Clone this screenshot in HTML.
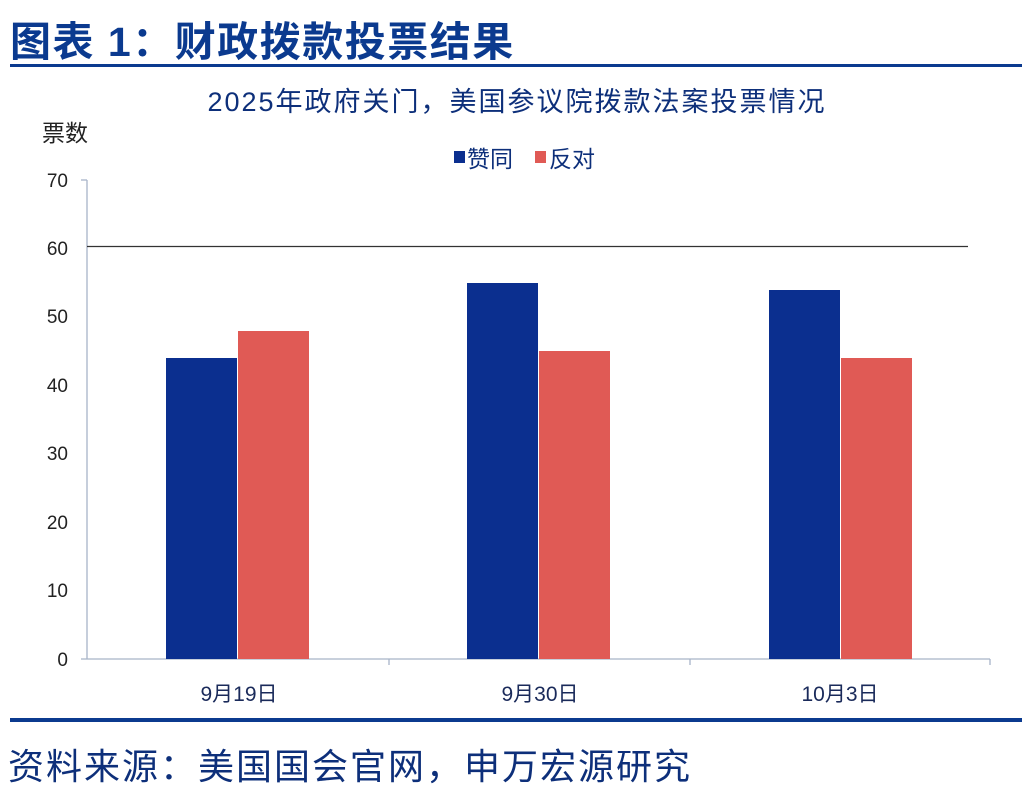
<!DOCTYPE html>
<html><head><meta charset="utf-8"><style>
html,body{margin:0;padding:0;background:#fff;}
svg{display:block;}
text{font-family:"Liberation Sans","Noto Sans CJK SC",sans-serif;}
</style></head><body>
<svg width="1022" height="798" viewBox="0 0 1022 798" xmlns="http://www.w3.org/2000/svg">
<rect width="1022" height="798" fill="#fff"/>
<text x="10" y="56" font-size="41" font-weight="bold" fill="#0b3a8f" letter-spacing="1.5">图表 1：财政拨款投票结果</text>
<rect x="10" y="64" width="1012" height="3" fill="#0b3a8f"/>
<text x="517" y="111" font-size="27" fill="#0d2f7a" text-anchor="middle" letter-spacing="2">2025年政府关门，美国参议院拨款法案投票情况</text>
<text x="42" y="141" font-size="23" fill="#222">票数</text>
<rect x="454" y="151" width="11" height="12" fill="#0b2f8f"/>
<text x="467" y="167" font-size="23" fill="#0d2f7a">赞同</text>
<rect x="535" y="151" width="11" height="12" fill="#e05a55"/>
<text x="549" y="167" font-size="23" fill="#0d2f7a">反对</text>
<g font-size="19" fill="#222" text-anchor="end">
<text x="68" y="666">0</text><text x="68" y="597">10</text><text x="68" y="529">20</text><text x="68" y="460">30</text><text x="68" y="392">40</text><text x="68" y="323">50</text><text x="68" y="255">60</text><text x="68" y="187">70</text>
</g>
<g stroke="#a8b4c8" stroke-width="1.3">
<line x1="87" y1="180" x2="87" y2="659"/>
<line x1="81" y1="180" x2="87" y2="180"/>
<line x1="81" y1="659" x2="990" y2="659"/>
<line x1="389" y1="659" x2="389" y2="665"/>
<line x1="690" y1="659" x2="690" y2="665"/>
<line x1="990" y1="659" x2="990" y2="665"/>
</g>
<line x1="87" y1="246.5" x2="968" y2="246.5" stroke="#333" stroke-width="1.2"/>
<g fill="#0b2f8f">
<rect x="166" y="358" width="71" height="301"/>
<rect x="467" y="283" width="71" height="376"/>
<rect x="769" y="290" width="71" height="369"/>
</g>
<g fill="#e05a55">
<rect x="238" y="331" width="71" height="328"/>
<rect x="539" y="351" width="71" height="308"/>
<rect x="841" y="358" width="71" height="301"/>
</g>
<g font-size="21" fill="#1a2a5a" text-anchor="middle">
<text x="239" y="701">9月19日</text><text x="540" y="701">9月30日</text><text x="840" y="701">10月3日</text>
</g>
<rect x="10" y="718" width="1012" height="4" fill="#0b3a8f"/>
<text x="8" y="779" font-size="36" fill="#0d2f7a" letter-spacing="2">资料来源：美国国会官网，申万宏源研究</text>
</svg>
</body></html>
